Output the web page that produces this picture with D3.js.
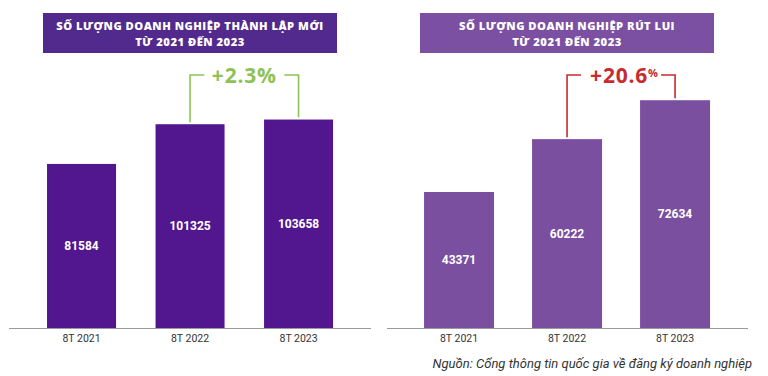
<!DOCTYPE html>
<html><head><meta charset="utf-8">
<script src="https://cdn.jsdelivr.net/npm/d3@7"></script>
<style>html,body{margin:0;padding:0;background:#fff;}svg{display:block;}</style>
</head><body>
<svg id="c" width="768" height="376"></svg>
<script>
const categories = ["8T 2021", "8T 2022", "8T 2023"];
const newValues = [81584, 101325, 103658];
const exitValues = [43371, 60222, 72634];
const leftTitle = ["SỐ LƯỢNG DOANH NGHIỆP THÀNH LẬP MỚI", "TỪ 2021 ĐẾN 2023"];
const rightTitle = ["SỐ LƯỢNG DOANH NGHIỆP RÚT LUI", "TỪ 2021 ĐẾN 2023"];
const leftChange = "+2.3%";
const rightChange = ["+20.6", "%"];
const sourceText = "Nguồn: Cổng thông tin quốc gia về đăng ký doanh nghiệp";

const svg = d3.select("#c");
const baseY = 328;

function panel(cfg) {
  const g = svg.append("g");
  g.append("rect").attr("x", cfg.boxX).attr("y", 13).attr("width", 294).attr("height", 40)
    .attr("fill", cfg.boxColor);
  cfg.title.forEach((t, i) => {
    g.append("text").attr("x", cfg.boxX + 147).attr("y", 30 + i * 15.5)
      .attr("text-anchor", "middle").attr("fill", "#fff")
      .style("font-family", "'Open Sans', sans-serif").style("font-weight", 800)
      .style("font-size", "11.2px").style("letter-spacing", "0.5px").text(t);
  });
  const x = d3.scaleBand().domain(categories).range(cfg.xRange)
    .paddingInner(cfg.padIn).paddingOuter(0.18);
  const y = d3.scaleLinear().domain(cfg.yDomain).range([baseY, cfg.yTop]);

  g.selectAll("rect.bar").data(cfg.values).join("rect").attr("class", "bar")
    .attr("x", (d, i) => x(categories[i])).attr("width", x.bandwidth())
    .attr("y", d => y(d)).attr("height", d => baseY - y(d))
    .attr("fill", cfg.barColor);

  g.selectAll("text.val").data(cfg.values).join("text").attr("class", "val")
    .attr("x", (d, i) => x(categories[i]) + x.bandwidth() / 2)
    .attr("y", d => (y(d) + baseY) / 2).attr("dy", "0.36em")
    .attr("text-anchor", "middle").attr("fill", "#fff")
    .style("font-family", "Roboto, sans-serif").style("font-weight", 700)
    .style("font-size", "12px").text(d => d);

  const ax = g.append("g").attr("transform", `translate(0,${baseY})`)
    .call(d3.axisBottom(x).tickSize(0).tickPadding(7));
  ax.select(".domain").remove();
  ax.selectAll("text").style("font-family", "Roboto, sans-serif").style("font-size", "10.5px")
    .attr("fill", "#333");
  g.append("line").attr("x1", cfg.axisX[0]).attr("x2", cfg.axisX[1])
    .attr("y1", baseY + 0.5).attr("y2", baseY + 0.5).attr("stroke", "#9a9a9a").attr("stroke-width", 1.2);

  const c1 = x(categories[1]) + x.bandwidth() / 2;
  const c2 = x(categories[2]) + x.bandwidth() / 2;
  const top = 75, mid = (c1 + c2) / 2;
  const gap = 40;
  const path = d3.path();
  path.moveTo(c1, y(cfg.values[1]) - 2); path.lineTo(c1, top); path.lineTo(mid - gap, top);
  path.moveTo(mid + gap, top); path.lineTo(c2, top); path.lineTo(c2, y(cfg.values[2]) - 2);
  g.append("path").attr("d", path.toString()).attr("fill", "none")
    .attr("stroke", cfg.brColor).attr("stroke-width", 1.6);
  const t = g.append("text").attr("x", mid + (cfg.textShift || 0)).attr("y", top).attr("dy", "0.36em")
    .attr("text-anchor", "middle").attr("fill", cfg.brColor)
    .style("font-family", "'Open Sans', sans-serif").style("font-weight", 700)
    .style("font-size", "21px").style("letter-spacing", "0.8px");
  if (Array.isArray(cfg.change)) {
    t.append("tspan").text(cfg.change[0]);
    t.append("tspan").attr("dy", "-0.5em").style("font-size", "11px").style("letter-spacing", "0px").text(cfg.change[1]);
  } else t.text(cfg.change);
}

panel({
  boxX: 43, boxColor: "#52298c", title: leftTitle, values: newValues,
  xRange: [27.5, 352.6], padIn: 0.364, yDomain: [0, 110000], yTop: baseY - 110000 * 0.002011,
  barColor: "#52168f", axisX: [9, 371], brColor: "#8fc256", change: leftChange
});
panel({
  boxX: 420, boxColor: "#7b4fa2", title: rightTitle, values: exitValues,
  xRange: [404.6, 729.5], padIn: 0.352, yDomain: [0, 80000], yTop: baseY - 80000 * 0.003136,
  barColor: "#7a4fa0", axisX: [387, 748], brColor: "#c72b30", change: rightChange, textShift: 3
});

svg.append("text").attr("x", 752).attr("y", 368).attr("text-anchor", "end")
  .attr("fill", "#333").style("font-family", "Roboto, sans-serif").style("font-style", "italic")
  .style("font-size", "13px").text(sourceText);
</script>
</body></html>
